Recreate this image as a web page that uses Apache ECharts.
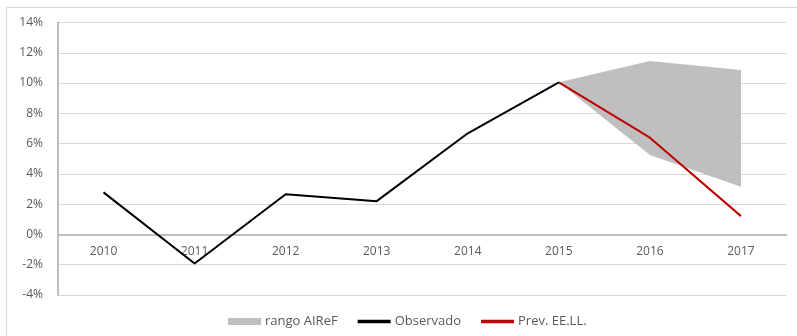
<!DOCTYPE html>
<html><head><meta charset="utf-8">
<script src="https://cdn.jsdelivr.net/npm/echarts@6/dist/echarts.min.js"></script>
<style>html,body{margin:0;padding:0;background:#fff}#c{width:797px;height:336px}</style>
</head><body><div id="c"></div>
<script>
const years = ['2010','2011','2012','2013','2014','2015','2016','2017'];
const observado = [2.78, -1.92, 2.66, 2.2, 6.68, 10.05, null, null];
const prevEELL = [null, null, null, null, null, 10.05, 6.39, 1.21];
const rangoLower = [null, null, null, null, null, 10.05, 5.24, 3.15];
const rangoUpper = [null, null, null, null, null, 10.05, 11.45, 10.86];
const yTicks = {min: -4, max: 14, interval: 2};

const rangoDiff = rangoUpper.map((u, i) => (u == null || rangoLower[i] == null) ? null : +(u - rangoLower[i]).toFixed(4));
const font = 'Open Sans';
const H = 336, gridTop = 22.5, gridBottom = 41;
const gridH = H - gridTop - gridBottom;
const zeroOffset = -(0 - yTicks.min) / (yTicks.max - yTicks.min) * gridH;
const chart = echarts.init(document.getElementById('c'));
chart.setOption({
  animation: false,
  textStyle: {fontFamily: font},
  graphic: [{type: 'rect', shape: {x: 6.5, y: 7.5, width: 800, height: 340}, style: {fill: 'none', stroke: '#d9d9d9', lineWidth: 1}, z: -10}],
  grid: {left: 58, right: 10.5, top: gridTop, bottom: gridBottom},
  legend: {
    bottom: 8, left: 228, padding: 0, itemGap: 20, itemWidth: 33, itemHeight: 7,
    textStyle: {fontFamily: font, fontSize: 13, color: '#595959', padding: [0, 0, 0, -1]},
    data: [
      {name: 'rango AIReF', icon: 'rect', itemStyle: {color: '#bfbfbf'}},
      {name: 'Observado', icon: 'path://M0,0H10V1H0Z', itemStyle: {color: '#000'}},
      {name: 'Prev. EE.LL.', icon: 'path://M0,0H10V1H0Z', itemStyle: {color: '#c00000'}}
    ]
  },
  xAxis: {
    type: 'category', data: years, boundaryGap: true, position: 'bottom', offset: zeroOffset,
    axisLine: {onZero: false, lineStyle: {color: '#bfbfbf', width: 2}},
    axisTick: {show: false},
    axisLabel: {color: '#595959', fontSize: 12, margin: 11, fontFamily: font}
  },
  yAxis: {
    type: 'value', min: yTicks.min, max: yTicks.max, interval: yTicks.interval,
    axisLine: {show: true, onZero: false, lineStyle: {color: '#bfbfbf', width: 2}},
    axisTick: {show: false},
    axisLabel: {color: '#595959', fontSize: 12, margin: 15, fontFamily: font, formatter: v => v + '%'},
    splitLine: {lineStyle: {color: '#d9d9d9', width: 1}}
  },
  series: [
    {name: 'rangoBase', type: 'line', stack: 'rango', data: rangoLower, symbol: 'none',
     lineStyle: {width: 0, opacity: 0}, areaStyle: {opacity: 0}, silent: true, z: 1},
    {name: 'rango AIReF', type: 'line', stack: 'rango', data: rangoDiff, symbol: 'none',
     itemStyle: {color: '#bfbfbf'},
     lineStyle: {width: 0, opacity: 0}, areaStyle: {color: '#bfbfbf', opacity: 1}, z: 1},
    {name: 'Observado', type: 'line', data: observado, symbol: 'none',
     itemStyle: {color: '#000'}, lineStyle: {color: '#000', width: 2}, z: 3},
    {name: 'Prev. EE.LL.', type: 'line', data: prevEELL, symbol: 'none',
     itemStyle: {color: '#c00000'}, lineStyle: {color: '#c00000', width: 2}, z: 4}
  ]
});
</script></body></html>
